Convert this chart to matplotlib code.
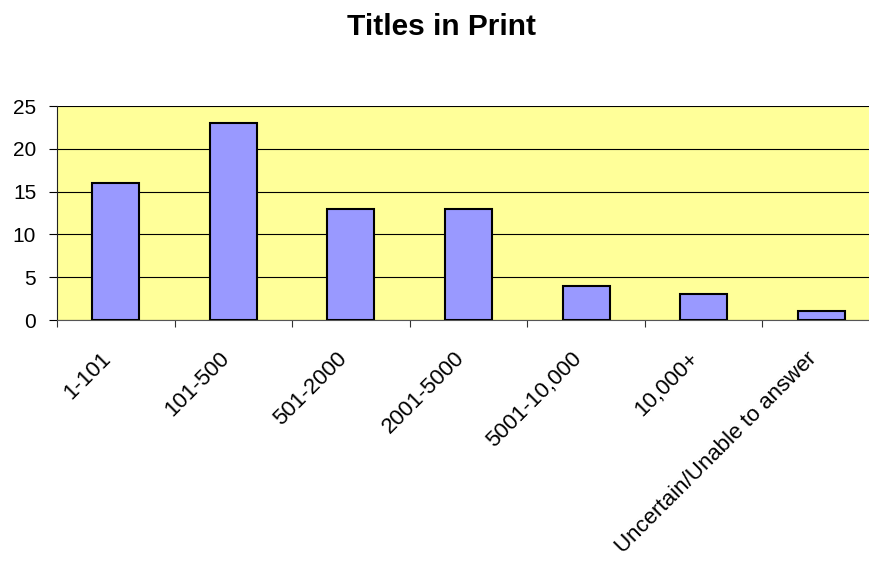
import numpy as np
import matplotlib.pyplot as plt
from matplotlib.transforms import ScaledTranslation

categories = ['1-101', '101-500', '501-2000', '2001-5000', '5001-10,000',
              '10,000+', 'Uncertain/Unable to answer']
counts = [16, 23, 13, 13, 4, 3, 1]

plt.rcParams['font.family'] = ['Liberation Sans', 'DejaVu Sans']

fig = plt.figure(figsize=(8.7, 5.67), dpi=100)
ax = fig.add_axes([57/870, 247/567, 823/870, 214/567])
ax.set_facecolor('#FFFF99')

x = np.arange(len(categories))
ax.bar(x, counts, width=0.40, color='#9999FF', edgecolor='black', linewidth=1.5, zorder=3)

ax.set_xlim(-0.5, len(categories) - 0.5)
ax.set_ylim(0, 25)
ax.set_yticks([0, 5, 10, 15, 20, 25])
ax.yaxis.grid(True, color='black', linewidth=0.8, zorder=1)
ax.set_axisbelow(True)

# ticks between categories, labels at centers
ax.set_xticks(np.arange(len(categories) + 1) - 0.5)
ax.set_xticklabels([])
ax.set_xticks(x, minor=True)
ax.set_xticklabels(categories, minor=True, rotation=45, ha='right', va='top',
                   rotation_mode='anchor', fontsize=16)
ax.tick_params(axis='x', which='minor', length=0, pad=20)
ax.tick_params(axis='x', which='major', length=5, color='#333333')
ax.tick_params(axis='y', labelsize=15, length=6, pad=9)

shift = ScaledTranslation(-15/100, 0, fig.dpi_scale_trans)
for lab in ax.get_xticklabels(minor=True):
    lab.set_transform(lab.get_transform() + shift)

for s in ['top', 'right']:
    ax.spines[s].set_visible(False)
ax.spines['left'].set_color('#222222')
ax.spines['bottom'].set_color('#555555')

fig.text(442/870, 1 - 35/567, 'Titles in Print', ha='center', va='baseline',
         fontsize=21.5, fontweight='bold')

fig.savefig('out.png', dpi=100)
